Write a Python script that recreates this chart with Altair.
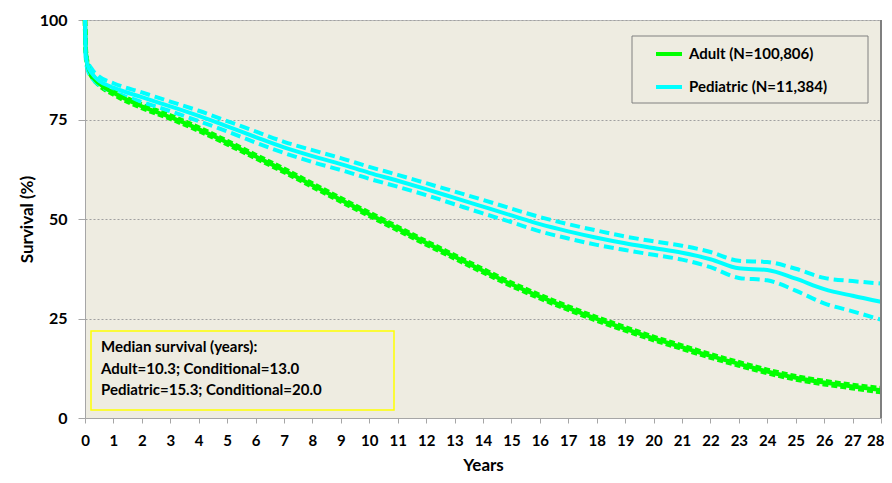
import altair as alt
import pandas as pd

years = [0, 0.03, 0.1, 0.25, 0.5, 1, 2, 3, 4, 5, 6, 7, 8, 9, 10, 11, 12, 13, 14,
         15, 16, 17, 18, 19, 20, 21, 22, 23, 24, 25, 26, 27, 28]

adult = [100, 92, 88.5, 86, 84, 81.7, 78.3, 75.6, 72.6, 69.2, 65.7, 62.2, 58.5,
         54.8, 51.2, 47.6, 44.0, 40.5, 37.0, 33.6, 30.5, 27.6, 24.9, 22.4, 20.0,
         17.8, 15.6, 13.6, 11.7, 10.1, 8.9, 7.9, 7.0]
adult_hi = [100, 92.4, 88.9, 86.4, 84.4, 82.1, 78.7, 76.0, 73.0, 69.6, 66.1, 62.6,
            58.9, 55.2, 51.6, 48.0, 44.4, 40.9, 37.4, 34.0, 30.9, 28.0, 25.3, 22.8,
            20.4, 18.2, 16.0, 14.0, 12.1, 10.5, 9.3, 8.3, 7.5]
adult_lo = [100, 91.6, 88.1, 85.6, 83.6, 81.3, 77.9, 75.2, 72.2, 68.8, 65.3, 61.8,
            58.1, 54.4, 50.8, 47.2, 43.6, 40.1, 36.6, 33.2, 30.1, 27.2, 24.5, 22.0,
            19.6, 17.4, 15.2, 13.2, 11.3, 9.7, 8.5, 7.5, 6.5]

ped = [100, 91, 88.5, 86.5, 84.7, 83.0, 80.6, 78.3, 75.9, 73.3, 70.6, 68.0, 65.8,
       63.8, 61.6, 59.6, 57.5, 55.3, 53.1, 50.9, 48.7, 46.9, 45.3, 43.9, 42.7,
       41.5, 39.9, 37.6, 37.2, 35.0, 32.4, 30.7, 29.2]
ped_hi = [100, 92, 89.6, 87.6, 85.8, 84.1, 81.8, 79.5, 77.2, 74.6, 72.0, 69.4, 67.3,
          65.3, 63.1, 61.1, 59.0, 56.9, 54.8, 52.6, 50.5, 48.7, 47.1, 45.6, 44.4,
          43.3, 41.7, 39.5, 39.2, 37.5, 35.2, 34.4, 33.8]
ped_lo = [100, 90, 87.4, 85.4, 83.6, 81.9, 79.4, 77.1, 74.6, 72.0, 69.2, 66.6, 64.3,
          62.3, 60.1, 58.1, 56.0, 53.7, 51.4, 49.2, 46.9, 45.1, 43.5, 42.2, 41.0,
          39.8, 37.9, 35.2, 34.6, 32.0, 28.8, 26.8, 24.7]

groups = ["Adult (N=100,806)", "Pediatric (N=11,384)"]
colors = ["#00FF00", "#00FFFF"]

note_lines = ["Median survival (years):",
              "Adult=10.3; Conditional=13.0",
              "Pediatric=15.3; Conditional=20.0"]

FONT = "Lato"
BG = "#EEECE1"

rows = []
for g, est, hi, lo in [(groups[0], adult, adult_hi, adult_lo),
                       (groups[1], ped, ped_hi, ped_lo)]:
    for i, yr in enumerate(years):
        rows.append({"year": yr, "value": est[i], "group": g, "kind": "est"})
        rows.append({"year": yr, "value": hi[i], "group": g, "kind": "hi"})
        rows.append({"year": yr, "value": lo[i], "group": g, "kind": "lo"})
df = pd.DataFrame(rows)

xscale = alt.Scale(domain=[0, 28], nice=False, zero=False)
yscale = alt.Scale(domain=[0, 100], nice=False)

xaxis = alt.Axis(values=list(range(0, 29)), format="d",
                 grid=False, domainColor="#A6A6A6", tickColor="#A6A6A6",
                 tickSize=5, labelPadding=10, labelFont=FONT,
                 labelFontSize=15, labelFontWeight="bold",
                 labelColor="#000000", titleFont=FONT, titleFontSize=17,
                 titleFontWeight="bold", titleColor="#000000",
                 titlePadding=9, labelFlush=False, labelOverlap=False,
                 labelAlign=alt.expr("datum.value == 28 ? 'right' : 'center'"),
                 labelOffset=alt.expr("datum.value == 28 ? 3 : 0"))
yaxis = alt.Axis(values=[0, 25, 50, 75, 100], grid=True,
                 gridColor="#A0A0A0", gridDash=[2, 2], gridWidth=1,
                 domainColor="#A6A6A6", tickColor="#A6A6A6", tickSize=7,
                 labelPadding=11, labelFont=FONT, labelFontSize=16,
                 labelFontWeight="bold", labelColor="#000000",
                 titleFont=FONT, titleFontSize=17, titleFontWeight="bold",
                 titleColor="#000000", titlePadding=3)

xenc = alt.X("year:Q", scale=xscale, title="Years", axis=xaxis)
yenc = alt.Y("value:Q", scale=yscale, title="Survival (%)", axis=yaxis)

base = alt.Chart(df)

adult_ci = base.transform_filter(
    f"datum.group == '{groups[0]}' && datum.kind != 'est'").mark_line(
    strokeWidth=4.5, strokeDash=[6, 3], interpolate="monotone").encode(
    x=xenc, y=yenc, detail="kind:N", color=alt.value(colors[0]))

ped_ci = base.transform_filter(
    f"datum.group == '{groups[1]}' && datum.kind != 'est'").mark_line(
    strokeWidth=4, strokeDash=[10, 5], interpolate="monotone").encode(
    x=xenc, y=yenc, detail="kind:N", color=alt.value(colors[1]))

solid = base.transform_filter("datum.kind == 'est'").mark_line(
    strokeWidth=4, interpolate="monotone").encode(
    x=xenc, y=yenc,
    color=alt.Color("group:N", scale=alt.Scale(domain=groups, range=colors),
                    legend=alt.Legend(title=None, orient="none", legendX=569,
                                      legendY=19, padding=0, rowPadding=10,
                                      symbolType="stroke", symbolSize=676,
                                      symbolStrokeWidth=4, labelOffset=5,
                                      labelFont=FONT, labelFontSize=15,
                                      labelFontWeight="bold",
                                      labelColor="#000000")),
)

one = pd.DataFrame({"a": [0]})
right_border = alt.Chart(one).mark_rule(color="#7F7F7F", strokeWidth=2).encode(
    x=alt.value(796), y=alt.value(0), y2=alt.value(398))

legend_box = alt.Chart(one).mark_rect(fill=BG, stroke="#808080", strokeWidth=1).encode(
    x=alt.value(547), x2=alt.value(783), y=alt.value(16), y2=alt.value(83))

note_box = alt.Chart(one).mark_rect(fill=BG, stroke="#FFFF00", strokeWidth=1.5).encode(
    x=alt.value(6), x2=alt.value(309), y=alt.value(311), y2=alt.value(390))

note_df = pd.DataFrame({"text": ["\n".join(note_lines)]})
note_text = alt.Chart(note_df).mark_text(
    align="left", baseline="middle", font=FONT, fontSize=15, fontWeight="bold",
    color="#000000", lineBreak="\n", lineHeight=21.5).encode(
    x=alt.value(16), y=alt.value(327), text="text:N")

chart = alt.layer(
    adult_ci, ped_ci, solid, right_border, legend_box, note_box, note_text
).properties(
    width=796, height=398,
    autosize=alt.AutoSizeParams(type="none"),
    padding={"left": 77, "top": 12, "right": 3, "bottom": 55},
    background="#FFFFFF",
).configure_view(fill=BG, stroke="#BFBFBF", strokeWidth=1)

chart.save("out.html", embed_options={"renderer": "svg", "actions": False})
